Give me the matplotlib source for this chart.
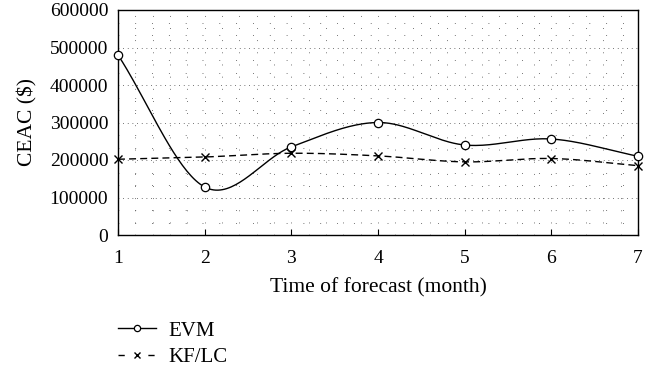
import numpy as np
import matplotlib
matplotlib.use("Agg")
import matplotlib.pyplot as plt
from matplotlib.ticker import MultipleLocator
from matplotlib.lines import Line2D

months = [1, 2, 3, 4, 5, 6, 7]
evm = [480000, 128000, 235000, 300000, 240000, 256000, 210000]
kflc = [202000, 208000, 218000, 211000, 195000, 204000, 185000]
xticks = [1, 2, 3, 4, 5, 6, 7]
yticks = [0, 100000, 200000, 300000, 400000, 500000, 600000]


def smooth_curve(x, y, n=40):
    """Hermite curve with Catmull-Rom tangents through the data points."""
    x = np.asarray(x, float)
    y = np.asarray(y, float)
    k = len(x)
    m = np.zeros(k)
    for i in range(k):
        if i == 0:
            m[i] = (y[1] - y[0]) / (x[1] - x[0])
        elif i == k - 1:
            m[i] = (y[-1] - y[-2]) / (x[-1] - x[-2])
        else:
            m[i] = (y[i + 1] - y[i - 1]) / (x[i + 1] - x[i - 1])
    xs_all, ys_all = [], []
    for i in range(k - 1):
        h = x[i + 1] - x[i]
        t = np.linspace(0, 1, n)
        h00 = 2 * t ** 3 - 3 * t ** 2 + 1
        h10 = t ** 3 - 2 * t ** 2 + t
        h01 = -2 * t ** 3 + 3 * t ** 2
        h11 = t ** 3 - t ** 2
        xs_all.append(x[i] + t * h)
        ys_all.append(h00 * y[i] + h10 * h * m[i] + h01 * y[i + 1] + h11 * h * m[i + 1])
    return np.concatenate(xs_all), np.concatenate(ys_all)


plt.rcParams["font.family"] = ["Liberation Serif", "DejaVu Serif"]
plt.rcParams["font.size"] = 14

fig = plt.figure(figsize=(6.6, 3.75), dpi=100)
ax = fig.add_axes([118 / 660, 1 - 235 / 375, 520 / 660, 225 / 375])

ax.set_xlim(1, 7)
ax.set_ylim(0, 600000)
ax.set_xticks(xticks)
ax.set_yticks(yticks)
ax.xaxis.set_minor_locator(MultipleLocator(0.2))
ax.yaxis.set_minor_locator(MultipleLocator(100000 / 3))
ax.grid(which="major", axis="y", color="#555555", linestyle=(0, (0.8, 4)), linewidth=0.7)
ax.grid(which="minor", axis="y", color="#555555", linestyle=(0, (0.8, 16.5)), linewidth=0.7)
ax.grid(which="both", axis="x", color="#555555", linestyle=(0, (0.8, 11.7)), linewidth=0.7)
ax.tick_params(which="minor", length=0)
ax.tick_params(axis="x", which="major", direction="in", length=4, width=0.8, pad=11,
               labelsize=14)
ax.tick_params(axis="y", which="major", length=0, pad=7, labelsize=14)
for s in ax.spines.values():
    s.set_linewidth(1.0)

xs, ys = smooth_curve(months, evm)
ax.plot(xs, ys, color="black", linewidth=1.0, zorder=3)
ax.plot(months, evm, linestyle="none", marker="o", markersize=6,
        markerfacecolor="white", markeredgecolor="black", markeredgewidth=0.9, zorder=4,
        clip_on=False)

xs2, ys2 = smooth_curve(months, kflc)
ax.plot(xs2, ys2, color="black", linewidth=1.0, linestyle=(0, (5, 3)), zorder=3)
ax.plot(months, kflc, linestyle="none", marker="x", markersize=6,
        color="black", markeredgewidth=1.0, zorder=4, clip_on=False)

ax.set_ylabel("CEAC ($)", labelpad=9, fontsize=15.5)
ax.set_xlabel("Time of forecast (month)", labelpad=8, fontsize=15.5)

handles = [
    Line2D([], [], color="black", linewidth=1.0, marker="o", markersize=4.5,
           markerfacecolor="white", markeredgecolor="black", markeredgewidth=0.9),
    Line2D([], [], color="black", linewidth=1.0, linestyle=(0, (4.5, 17)), marker="x",
           markersize=4.5, markeredgewidth=1.0),
]
fig.legend(handles, ["EVM", "KF/LC"], loc="upper left",
           bbox_to_anchor=(118 / 660, 1 - 321 / 375), frameon=False,
           borderpad=0, borderaxespad=0,
           handlelength=1.8, handletextpad=0.6, labelspacing=0.35, fontsize=15)

fig.savefig("out.png", dpi=100)
